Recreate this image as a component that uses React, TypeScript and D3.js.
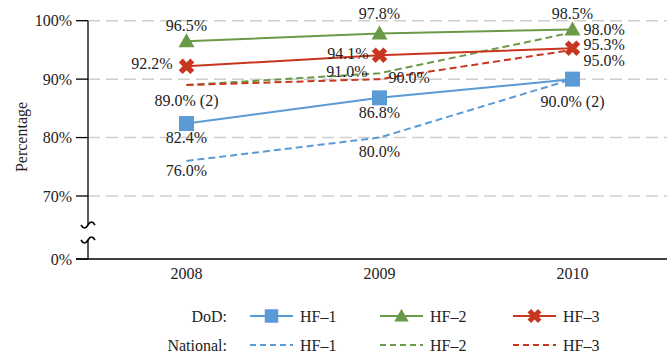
import React from 'react';
import * as d3 from 'd3';

const years = ['2008', '2009', '2010'];
const dodHF1 = [82.4, 86.8, 90.0];
const dodHF2 = [96.5, 97.8, 98.5];
const dodHF3 = [92.2, 94.1, 95.3];
const natHF1 = [76.0, 80.0, 90.0];
const natHF2 = [89.0, 91.0, 98.0];
const natHF3 = [89.0, 90.0, 95.0];
const yTicks = [0, 70, 80, 90, 100];
const gridTicks = [70, 80, 90, 100];
const hfNames = ['HF–1', 'HF–2', 'HF–3'];

const BLUE = '#5b9bd5';
const GREEN = '#6a9a48';
const RED = '#c8361f';
const FONT = '"Liberation Serif", "Times New Roman", serif';

type Marker = 'square' | 'triangle' | 'x' | 'none';

const series = [
  { key: 'dod1', values: dodHF1, color: BLUE, dashed: false, marker: 'square' as Marker },
  { key: 'dod2', values: dodHF2, color: GREEN, dashed: false, marker: 'triangle' as Marker },
  { key: 'dod3', values: dodHF3, color: RED, dashed: false, marker: 'x' as Marker },
  { key: 'nat1', values: natHF1, color: BLUE, dashed: true, marker: 'none' as Marker },
  { key: 'nat2', values: natHF2, color: GREEN, dashed: true, marker: 'none' as Marker },
  { key: 'nat3', values: natHF3, color: RED, dashed: true, marker: 'none' as Marker },
];

// data label placement (offsets from the point)
const labels = [
  { key: 'dod2', i: 0, dx: 0, dy: -16, anchor: 'middle', suffix: '' },
  { key: 'dod2', i: 1, dx: 0, dy: -20, anchor: 'middle', suffix: '' },
  { key: 'dod2', i: 2, dx: 0, dy: -16.5, anchor: 'middle', suffix: '' },
  { key: 'nat2', i: 2, dx: 11, dy: -3, anchor: 'start', suffix: '' },
  { key: 'dod3', i: 2, dx: 11, dy: -4, anchor: 'start', suffix: '' },
  { key: 'nat3', i: 2, dx: 11, dy: 10.5, anchor: 'start', suffix: '' },
  { key: 'dod3', i: 0, dx: -14, dy: -3, anchor: 'end', suffix: '' },
  { key: 'dod3', i: 1, dx: -11, dy: -2, anchor: 'end', suffix: '' },
  { key: 'nat2', i: 1, dx: -12, dy: -2, anchor: 'end', suffix: '' },
  { key: 'nat3', i: 1, dx: 9, dy: -2, anchor: 'start', suffix: '' },
  { key: 'nat2', i: 0, dx: 0, dy: 15, anchor: 'middle', suffix: ' (2)' },
  { key: 'dod1', i: 0, dx: 0, dy: 14, anchor: 'middle', suffix: '' },
  { key: 'dod1', i: 1, dx: 0, dy: 15, anchor: 'middle', suffix: '' },
  { key: 'dod1', i: 2, dx: 0, dy: 22, anchor: 'middle', suffix: ' (2)' },
  { key: 'nat1', i: 0, dx: 0, dy: 9, anchor: 'middle', suffix: '' },
  { key: 'nat1', i: 1, dx: 0, dy: 14, anchor: 'middle', suffix: '' },
];

const W = 667;
const H = 354;
const axisX = 88;
const baseY = 259;

const x = d3.scalePoint<string>().domain(years).range([90, 669]).padding(0.5);
const y = d3.scaleLinear().domain([0, 70, 100]).range([baseY, 196, 20.7]);

function drawMarker(m: Marker, cx: number, cy: number, color: string, s = 1) {
  if (m === 'square') {
    const h = 7.5 * s;
    return <rect x={cx - h} y={cy - h} width={2 * h} height={2 * h} fill={color} />;
  }
  if (m === 'triangle') {
    return <path d={`M${cx},${cy - 8 * s}L${cx + 8 * s},${cy + 6 * s}L${cx - 8 * s},${cy + 6 * s}Z`} fill={color} />;
  }
  if (m === 'x') {
    const sym = d3.symbol().type(d3.symbolCross).size(150 * s * s)();
    return <path d={sym || ''} transform={`translate(${cx},${cy}) rotate(45)`} fill={color} />;
  }
  return null;
}

const App: React.FC = () => {
  const line = d3.line<number>()
    .x((_, i) => x(years[i]) as number)
    .y(d => y(d));
  const byKey: Record<string, typeof series[number]> = {};
  series.forEach(s => { byKey[s.key] = s; });

  const wave = (yy: number) =>
    `M${axisX - 7},${yy} Q${axisX - 3.5},${yy + 6} ${axisX},${yy} Q${axisX + 3.5},${yy - 6} ${axisX + 7},${yy}`;

  const legendCols = [250, 380, 513];
  const legendRows = [316, 345];

  return (
    <svg width={W} height={H} style={{ position: 'absolute', left: 0, top: 0, background: '#fff' }}
      fontFamily={FONT}>
      {/* grid */}
      {gridTicks.map(t => (
        <line key={t} x1={axisX} x2={W} y1={y(t)} y2={y(t)} stroke="#cfcfcf" strokeWidth={1.5}
          strokeDasharray="12,6" />
      ))}
      {/* y axis with break */}
      <line x1={axisX} x2={axisX} y1={y(100)} y2={225} stroke="#000" strokeWidth={1.3} />
      <line x1={axisX} x2={axisX} y1={240} y2={baseY} stroke="#000" strokeWidth={1.3} />
      <path d={wave(225)} fill="none" stroke="#000" strokeWidth={1.6} />
      <path d={wave(240)} fill="none" stroke="#000" strokeWidth={1.6} />
      {yTicks.map(t => (
        <g key={t}>
          <line x1={76} x2={axisX} y1={y(t)} y2={y(t)} stroke="#000" strokeWidth={1.3} />
          <text x={72} y={y(t)} dy="0.35em" textAnchor="end" fontSize={16} fill="#222">{t}%</text>
        </g>
      ))}
      <line x1={76} x2={W} y1={baseY} y2={baseY} stroke="#000" strokeWidth={1.3} />
      {years.map(yr => (
        <text key={yr} x={x(yr)} y={273} dy="0.35em" textAnchor="middle" fontSize={16} fill="#222">{yr}</text>
      ))}
      <text transform={`translate(21,137) rotate(-90)`} textAnchor="middle" dy="0.35em" fontSize={16}
        fill="#222">Percentage</text>

      {/* dashed national lines */}
      {series.filter(s => s.dashed).map(s => (
        <path key={s.key} d={line(s.values) || ''} fill="none" stroke={s.color} strokeWidth={2}
          strokeDasharray="7,4" />
      ))}
      {/* solid DoD lines */}
      {series.filter(s => !s.dashed).map(s => (
        <g key={s.key}>
          <path d={line(s.values) || ''} fill="none" stroke={s.color} strokeWidth={2} />
          {s.values.map((v, i) => (
            <g key={i}>{drawMarker(s.marker, x(years[i]) as number, y(v), s.color)}</g>
          ))}
        </g>
      ))}

      {/* data labels */}
      {labels.map((l, k) => {
        const s = byKey[l.key];
        const v = s.values[l.i];
        return (
          <text key={k} x={(x(years[l.i]) as number) + l.dx} y={y(v) + l.dy} dy="0.35em"
            textAnchor={l.anchor as any} fontSize={16} fill="#222">
            {`${v.toFixed(1)}%${l.suffix}`}
          </text>
        );
      })}

      {/* legend */}
      <text x={227} y={legendRows[0]} dy="0.35em" textAnchor="end" fontSize={16} fill="#222">DoD:</text>
      <text x={227} y={legendRows[1]} dy="0.35em" textAnchor="end" fontSize={16} fill="#222">National:</text>
      {series.map((s, k) => {
        const col = legendCols[k % 3];
        const row = legendRows[s.dashed ? 1 : 0];
        return (
          <g key={s.key}>
            <line x1={col} x2={col + 43} y1={row} y2={row} stroke={s.color} strokeWidth={2}
              strokeDasharray={s.dashed ? '6,4' : undefined} />
            {drawMarker(s.marker, col + 21.5, row, s.color, 0.9)}
            <text x={col + 50} y={row} dy="0.35em" fontSize={16} fill="#222">{hfNames[k % 3]}</text>
          </g>
        );
      })}
    </svg>
  );
};

export default App;
